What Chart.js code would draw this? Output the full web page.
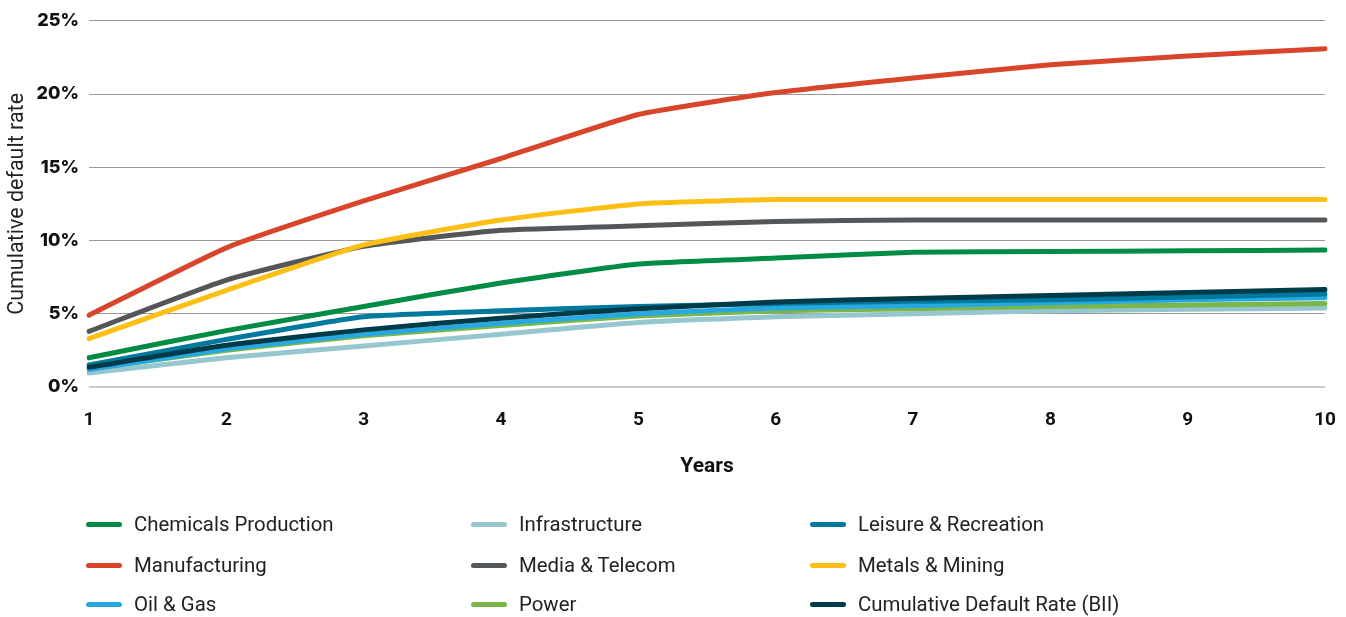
<!DOCTYPE html>
<html>
<head>
<meta charset="utf-8">
<script src="https://cdn.jsdelivr.net/npm/chart.js@4/dist/chart.umd.min.js"></script>
<style>
  html, body { margin: 0; padding: 0; background: #fff; overflow: hidden; }
  #wrap { position: relative; width: 1346px; height: 617px; overflow: hidden; }
  #chartBox { position: absolute; left: 0; top: 0; width: 1358px; height: 481px; }
  #legend { position: absolute; left: 0; top: 0; width: 1346px; height: 617px; pointer-events: none; }
  .item { position: absolute; height: 24px; display: flex; align-items: center;
          font-family: Roboto, "Noto Sans", sans-serif; font-size: 20.4px; color: #222; white-space: nowrap; }
  .swatch { width: 36px; height: 5px; border-radius: 3px; margin-right: 12px; }
</style>
</head>
<body>
<div id="wrap">
  <div id="chartBox"><canvas id="c"></canvas></div>
  <div id="legend"></div>
</div>
<script>
const years = ["1","2","3","4","5","6","7","8","9","10"];
const yTicks = [0, 5, 10, 15, 20, 25];

const chemicals      = [2.0, 3.85, 5.5, 7.1, 8.4, 8.8, 9.2, 9.25, 9.3, 9.35];
const infrastructure = [0.95, 2.0, 2.8, 3.6, 4.4, 4.8, 5.0, 5.2, 5.3, 5.4];
const leisure        = [1.5, 3.25, 4.8, 5.2, 5.5, 5.7, 5.85, 5.95, 6.15, 6.35];
const manufacturing  = [4.9, 9.5, 12.7, 15.6, 18.6, 20.1, 21.1, 22.0, 22.6, 23.1];
const media          = [3.8, 7.3, 9.6, 10.7, 11.0, 11.3, 11.4, 11.4, 11.4, 11.4];
const metals         = [3.3, 6.6, 9.7, 11.4, 12.5, 12.8, 12.8, 12.8, 12.8, 12.8];
const oilGas         = [1.2, 2.6, 3.6, 4.35, 5.0, 5.4, 5.55, 5.75, 5.95, 6.1];
const power          = [1.25, 2.5, 3.5, 4.2, 4.85, 5.2, 5.35, 5.5, 5.6, 5.7];
const cumulativeBII  = [1.35, 2.85, 3.9, 4.7, 5.35, 5.8, 6.05, 6.25, 6.45, 6.65];

const seriesNames = ["Chemicals Production","Infrastructure","Leisure & Recreation",
  "Manufacturing","Media & Telecom","Metals & Mining","Oil & Gas","Power","Cumulative Default Rate (BII)"];
const seriesData = [chemicals, infrastructure, leisure, manufacturing, media, metals, oilGas, power, cumulativeBII];
const seriesColors = ["#008C44","#96C6CF","#00799E","#D9452B","#54575A","#FDBF14","#27A8E0","#7AB648","#003B4A"];
const seriesOrder = [4, 8, 2, 5, 6, 3, 6, 7, 0];

const datasets = seriesNames.map((n, i) => ({
  label: n,
  data: seriesData[i],
  borderColor: seriesColors[i],
  backgroundColor: seriesColors[i],
  borderWidth: 5,
  pointRadius: 0,
  pointHoverRadius: 0,
  tension: 0.15,
  borderCapStyle: 'round',
  borderJoinStyle: 'round',
  fill: false,
  order: seriesOrder[i]
}));

new Chart(document.getElementById('c'), {
  type: 'line',
  data: { labels: years, datasets },
  options: {
    responsive: true,
    maintainAspectRatio: false,
    animation: false,
    layout: { padding: { top: 19, right: 9, left: 0, bottom: 0 } },
    plugins: { legend: { display: false }, tooltip: { enabled: false } },
    scales: {
      x: {
        offset: false,
        grid: { display: false, drawTicks: false },
        border: { display: false },
        ticks: { color: '#111', padding: 22, maxRotation: 0, autoSkip: false,
                 font: { family: 'Roboto', size: 19, weight: 'bold' } },
        title: { display: true, text: 'Years', color: '#111',
                 padding: { top: 0, bottom: 2 },
                 font: { family: 'Roboto', size: 21, weight: 'bold' } }
      },
      y: {
        min: 0, max: 25,
        afterBuildTicks: (s) => { s.ticks = yTicks.map(v => ({ value: v })); },
        afterFit: (s) => { s.width = 89; },
        grid: {
          drawTicks: false,
          color: (ctx) => ctx.tick && ctx.tick.value === 0 ? '#cccccc' : '#9a9a9a',
          lineWidth: (ctx) => ctx.tick && ctx.tick.value === 0 ? 2 : 1
        },
        border: { display: false },
        ticks: { color: '#111', padding: 10, callback: (v) => v + '%',
                 font: { family: 'Inter', size: 18, weight: '800' } },
        title: { display: true, text: 'Cumulative default rate', color: '#222',
                 padding: { top: 5, bottom: 0 },
                 font: { family: 'Roboto', size: 21.5, weight: 'normal' } }
      }
    }
  }
});

// HTML legend, 3 columns, row-major
const legend = document.getElementById('legend');
const colX = [86, 471, 810];
const rowY = [512, 553, 592];
seriesNames.forEach((n, i) => {
  const d = document.createElement('div');
  d.className = 'item';
  d.style.left = colX[i % 3] + 'px';
  d.style.top = rowY[Math.floor(i / 3)] + 'px';
  const sw = document.createElement('span');
  sw.className = 'swatch';
  sw.style.background = seriesColors[i];
  const t = document.createElement('span');
  t.textContent = n;
  d.appendChild(sw); d.appendChild(t);
  legend.appendChild(d);
});
</script>
</body>
</html>
